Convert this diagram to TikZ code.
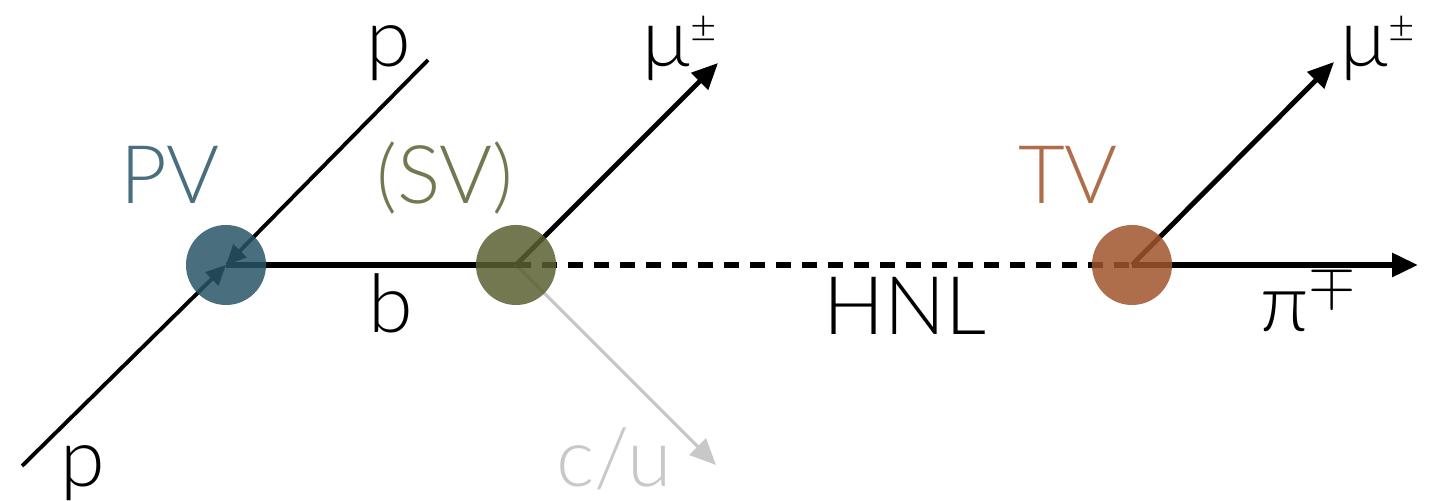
\documentclass[tikz,border=0pt]{standalone}
\usepackage{fontspec}
\setmainfont{Lato}[UprightFont=* Light]
\usetikzlibrary{arrows.meta,positioning}
\definecolor{pvcol}{RGB}{41,85,103}
\definecolor{svcol}{RGB}{90,96,50}
\definecolor{tvcol}{RGB}{160,85,45}
\definecolor{quarkgray}{RGB}{200,200,200}
\newcommand{\supchg}[1]{\raisebox{7pt}{\fontsize{13}{13}\selectfont #1}}
\begin{document}
\begin{tikzpicture}[x=0.01cm,y=-0.01cm,
vtx/.style={circle,minimum size=0.8cm,inner sep=0pt,opacity=0.85},
lbl/.style={font=\fontsize{23}{27}\selectfont,inner sep=0pt},
tip/.style={-{Triangle[length=0.26cm,width=0.23cm]}}]
\useasboundingbox (0,0) rectangle (1433,501);
% end points
\coordinate (pA) at (428,60);
\coordinate (pB) at (22,466);
\coordinate (muA) at (718,63);
\coordinate (quark) at (716,465);
\coordinate (muB) at (1334,62);
\coordinate (pion) at (1418,265);
\coordinate (pv) at (226,265);
\coordinate (sv) at (516,265);
\coordinate (tv) at (1132,265);
% tracks
\draw[line width=1.1pt,-{Triangle[length=0.2cm,width=0.18cm]}] (pA)--(pv);
\draw[line width=1.1pt,-{Triangle[length=0.2cm,width=0.18cm]}] (pB)--(pv);
\draw[line width=1.7pt] (pv)--(sv);
\draw[line width=1.4pt,tip] (sv)--(muA);
\draw[line width=0.9pt,quarkgray,tip] (sv)--(quark);
\draw[line width=1.7pt,dash pattern=on 0.15cm off 0.11cm] (sv)--(tv);
\draw[line width=1.4pt,tip] (tv)--(muB);
\draw[line width=1.7pt,tip] (tv)--(pion);
% vertices
\node[vtx,fill=pvcol] (PV) at (pv) {};
\node[vtx,fill=svcol] (SV) at (sv) {};
\node[vtx,fill=tvcol] (TV) at (tv) {};
% labels
\node[lbl,anchor=base] (lpA) at (389,67) {p};
\node[lbl,anchor=base] (lpB) at (83,487) {p};
\node[lbl,anchor=base,text=pvcol!85!white] (lPV) at (170,204) {PV};
\node[lbl,anchor=base,text=svcol!85!white] (lSV) at (445,204) {(SV)};
\node[lbl,anchor=base] (lb) at (391,333) {b};
\node[lbl,anchor=base west] (lmuA) at (642,67) {μ\supchg{±}};
\node[lbl,anchor=base,text=quarkgray] (lq) at (614,487) {c/u};
\node[lbl,anchor=base] (lHNL) at (905,335) {HNL};
\node[lbl,anchor=base,text=tvcol!85!white] (lTV) at (1068,204) {TV};
\node[lbl,anchor=base west] (lmuB) at (1340,67) {μ\supchg{±}};
\node[lbl,anchor=base west] (lpi) at (1260,332) {π$^{\mp}$};
\end{tikzpicture}
\end{document}
